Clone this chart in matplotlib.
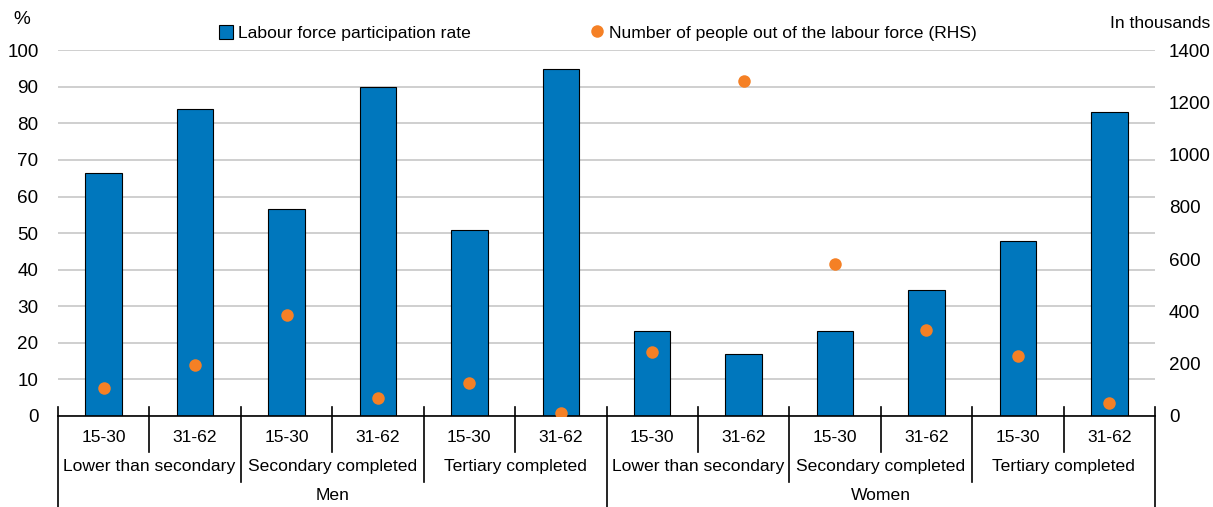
import matplotlib.pyplot as plt
import matplotlib.transforms as mtransforms
from matplotlib.lines import Line2D
from matplotlib.patches import Patch
import numpy as np

plt.rcParams['font.family'] = ['Liberation Sans', 'DejaVu Sans']

# data
sexes = ['Men', 'Women']
education = ['Lower than secondary', 'Secondary completed', 'Tertiary completed']
ages = ['15-30', '31-62']
participation = [66.4, 83.9, 56.6, 89.9, 50.8, 94.8,
                 23.2, 16.9, 23.2, 34.4, 47.8, 83.1]
out_of_lf = [107, 195, 386, 69, 126, 11,
             245, 1282, 581, 329, 230, 50]

blue = '#0077BD'
orange = '#F58025'
fs = 12.6

fig = plt.figure(figsize=(12.13, 5.07), dpi=100)
ax = fig.add_axes([0.0478, 0.1795, 0.9044, 0.7215])
ax2 = ax.twinx()

n = len(participation)
x = np.arange(n)
ax.bar(x, participation, width=0.4, color=blue, edgecolor='black', linewidth=0.8, zorder=3)
ax2.plot(x, out_of_lf, 'o', color=orange, markersize=9, markeredgewidth=0, zorder=4)

ax.set_xlim(-0.5, n - 0.5)
ax.set_ylim(0, 100)
ax2.set_ylim(0, 1400)
ax.set_yticks(range(0, 101, 10))
ax2.set_yticks(range(0, 1401, 200))
ax.yaxis.grid(True, color='#cccccc', linewidth=1.3, zorder=0)
ax.set_axisbelow(True)

for a in (ax, ax2):
    for s in ('left', 'right', 'top', 'bottom'):
        a.spines[s].set_visible(False)
    a.tick_params(axis='y', length=0, labelsize=fs + 1)
ax.tick_params(axis='y', pad=14)
ax2.tick_params(axis='y', pad=10)
ax.set_xticks([])

# baseline
ax.plot([-0.5, n - 0.5], [0, 0], color='black', lw=1.2, zorder=5, clip_on=False)

trans = mtransforms.blended_transform_factory(ax.transData, fig.transFigure)
y_top = 1 - 407 / 507
y_age = 1 - 452 / 507
y_edu = 1 - 482 / 507
y_sex = 0.0

# separators between categories
for i in range(n + 1):
    xb = i - 0.5
    if i % 6 == 0:
        yb = y_sex
    elif i % 2 == 0:
        yb = y_edu
    else:
        yb = y_age
    ax.add_line(Line2D([xb, xb], [y_top, yb], transform=trans, color='black',
                       lw=1.2, clip_on=False))

# multi-level labels
for i in range(n):
    ax.text(i, 1 - 437 / 507, ages[i % 2], transform=trans, ha='center', va='center', fontsize=fs)
for j in range(6):
    ax.text(2 * j + 0.5, 1 - 467 / 507, education[j % 3], transform=trans,
            ha='center', va='center', fontsize=fs)
for k in range(2):
    ax.text(6 * k + 2.5, 1 - 496 / 507, sexes[k], transform=trans,
            ha='center', va='center', fontsize=fs)

fig.text(22 / 1213, 1 - 20 / 507, '%', ha='center', va='center', fontsize=fs + 1)
fig.text(1210 / 1213, 1 - 24 / 507, 'In thousands', ha='right', va='center', fontsize=fs)

handles = [Patch(facecolor=blue, edgecolor='black', linewidth=0.8),
           Line2D([], [], marker='o', color=orange, linestyle='none', markersize=9, markeredgewidth=0)]
fig.legend(handles, ['Labour force participation rate', 'Number of people out of the labour force (RHS)'],
           loc='center', bbox_to_anchor=(598 / 1213, 1 - 33 / 507), ncol=2, frameon=False,
           fontsize=fs, handlelength=0.8, handleheight=0.8, handletextpad=0.3, columnspacing=6.8)

fig.savefig('out.png', dpi=100)
